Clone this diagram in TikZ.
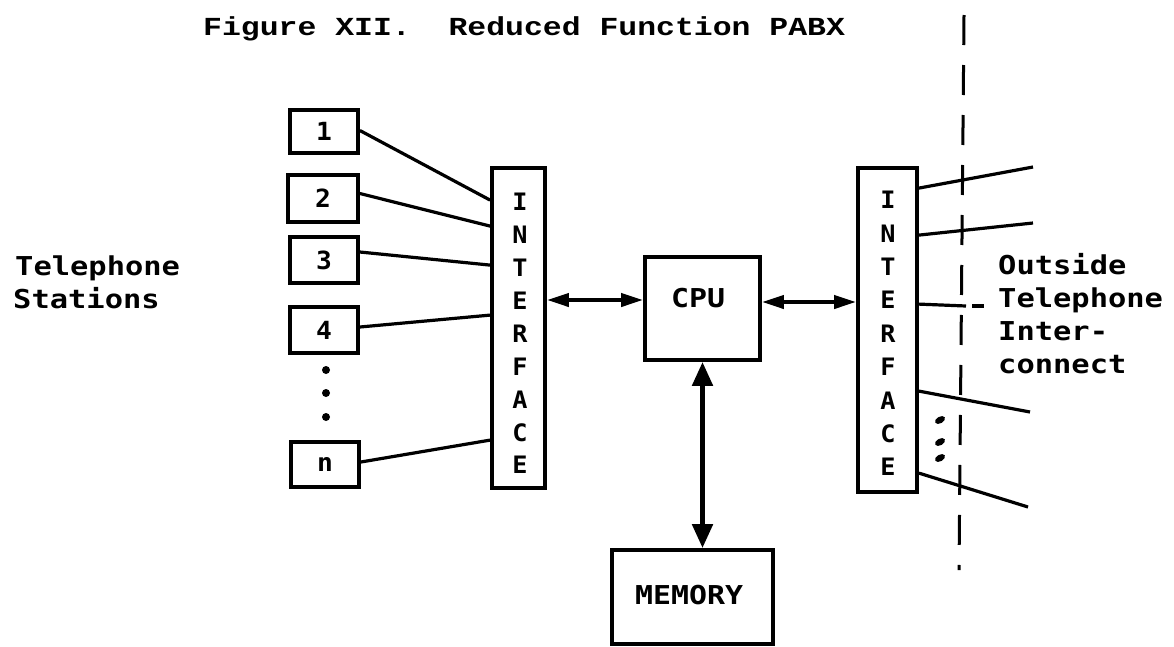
\documentclass[tikz,border=0pt]{standalone}
\usepackage{fontspec}
\newfontfamily\lblfont{DejaVu Sans Mono}
\newfontfamily\ttlfont{Liberation Mono}
\usetikzlibrary{arrows.meta}
\newcommand{\wide}[2]{\scalebox{#1}[1]{#2}}
\begin{document}
\begin{tikzpicture}[x=1pt,y=-1pt,
  box/.style={draw, line width=3.8pt, inner sep=0pt, font=\lblfont\bfseries\fontsize{25}{28}\selectfont},
  lbl/.style={inner sep=0pt, anchor=base west, font=\lblfont\bfseries\fontsize{26}{30}\selectfont},
  lett/.style={inner sep=0pt, font=\lblfont\bfseries\fontsize{24}{28}\selectfont},
  wire/.style={line width=3.2pt},
  arr/.style={line width=4pt, {Triangle[length=22pt,width=13pt]}-{Triangle[length=22pt,width=13pt]}},
  varr/.style={line width=5pt, {Triangle[length=24pt,width=20pt]}-{Triangle[length=24pt,width=20pt]}},
  dot/.style={fill=black}
]
\path[use as bounding box, fill=white] (0,0) rectangle (1174,646);

% title
\node[inner sep=0pt, anchor=base west, font=\ttlfont\bfseries\fontsize{26}{30}\selectfont] (title) at (203,35) {\wide{1.21}{Figure XII.\ \ Reduced Function PABX}};

% station boxes
\node[box, minimum width=68pt, minimum height=43pt] (b1) at (324,131.5) {\wide{1.05}{1}};
\node[box, minimum width=70pt, minimum height=47pt] (b2) at (323,198.5) {\wide{1.05}{2}};
\node[box, minimum width=68pt, minimum height=46pt] (b3) at (324,260) {\wide{1.05}{3}};
\node[box, minimum width=68pt, minimum height=46pt] (b4) at (324,330) {\wide{1.05}{4}};
\node[box, minimum width=68pt, minimum height=45pt] (bn) at (325,464.5) {\wide{1.05}{n}};
\fill[dot] (326,370) circle [radius=4];
\fill[dot] (326,393) circle [radius=4];
\fill[dot] (326,417) circle [radius=4];

% interfaces
\node[box, minimum width=53pt, minimum height=320pt] (ifl) at (518.5,328) {};
\node[box, minimum width=59pt, minimum height=324pt] (ifr) at (887.5,330) {};
\foreach \c [count=\i] in {I,N,T,E,R,F,A,C,E} {
  \node[lett] (lI\i) at (520,{202+(\i-1)*32.9}) {\wide{1.05}{\c}};
  \node[lett] (rI\i) at (888,{200+(\i-1)*33.4}) {\wide{1.05}{\c}};
}

% CPU and memory
\node[box, minimum width=115pt, minimum height=103pt] (cpu) at (702.5,308.5) {};
\node[lbl, anchor=center] (cpulbl) at (698,298) {\wide{1.15}{CPU}};
\node[box, minimum width=161pt, minimum height=94pt] (mem) at (692.5,597) {};
\node[lbl, anchor=center] (memlbl) at (689,595) {\wide{1.15}{MEMORY}};

% station wires
\draw[wire] ([yshift=1pt]b1.east) -- ([yshift=-34pt]ifl.north west);
\draw[wire] ([yshift=5pt]b2.east) -- ([yshift=-60pt]ifl.north west);
\draw[wire] ([yshift=8pt]b3.east) -- ([yshift=-99pt]ifl.north west);
\draw[wire] ([yshift=3pt]b4.east) -- ([yshift=-149pt]ifl.north west);
\draw[wire] ([yshift=2.5pt]bn.east) -- ([yshift=-274pt]ifl.north west);

% bus arrows
\coordinate (la) at ([yshift=8.5pt]cpu.west);
\coordinate (ra) at ([yshift=6.5pt]cpu.east);
\draw[arr] (la -| ifl.east) -- (la);
\draw[arr] (ra) -- (ra -| ifr.west);
\draw[varr] (cpu.south) -- (cpu.south |- mem.north);

% outside lines
\coordinate (o1) at (1033,167);
\coordinate (o2) at (1033,223);
\coordinate (o3) at (966,306);
\coordinate (o3b) at (972,306);
\coordinate (o3c) at (984,306);
\coordinate (o4) at (1030,412);
\coordinate (o5) at (1028,507);
\draw[wire] ([yshift=-22pt]ifr.north east) -- (o1);
\draw[wire] ([yshift=-69pt]ifr.north east) -- (o2);
\draw[wire] ([yshift=-138pt]ifr.north east) -- (o3);
\draw[wire] (o3b) -- (o3c);
\draw[wire] ([yshift=-225pt]ifr.north east) -- (o4);
\draw[wire] ([yshift=-307pt]ifr.north east) -- (o5);
\fill[dot, rotate around={30:(940,420)}] (940,420) ellipse [x radius=5.5, y radius=3.3];
\fill[dot, rotate around={30:(940,442)}] (940,442) ellipse [x radius=5.5, y radius=3.3];
\fill[dot, rotate around={30:(940,458)}] (940,458) ellipse [x radius=5.5, y radius=3.3];

% boundary
\coordinate (dt) at (964,15);
\coordinate (db) at (959,570);
\draw[line width=3pt, dash pattern=on 30pt off 20pt] (dt) -- (db);

% labels
\node[lbl] (ts1) at (15,275) {\wide{1.17}{Telephone}};
\node[lbl] (ts2) at (13,308) {\wide{1.17}{Stations}};
\node[lbl] (ot1) at (998,274) {\wide{1.17}{Outside}};
\node[lbl] (ot2) at (998,307) {\wide{1.17}{Telephone}};
\node[lbl] (ot3) at (998,340) {\wide{1.17}{Inter-}};
\node[lbl] (ot4) at (998,373) {\wide{1.17}{connect}};
\end{tikzpicture}
\end{document}
